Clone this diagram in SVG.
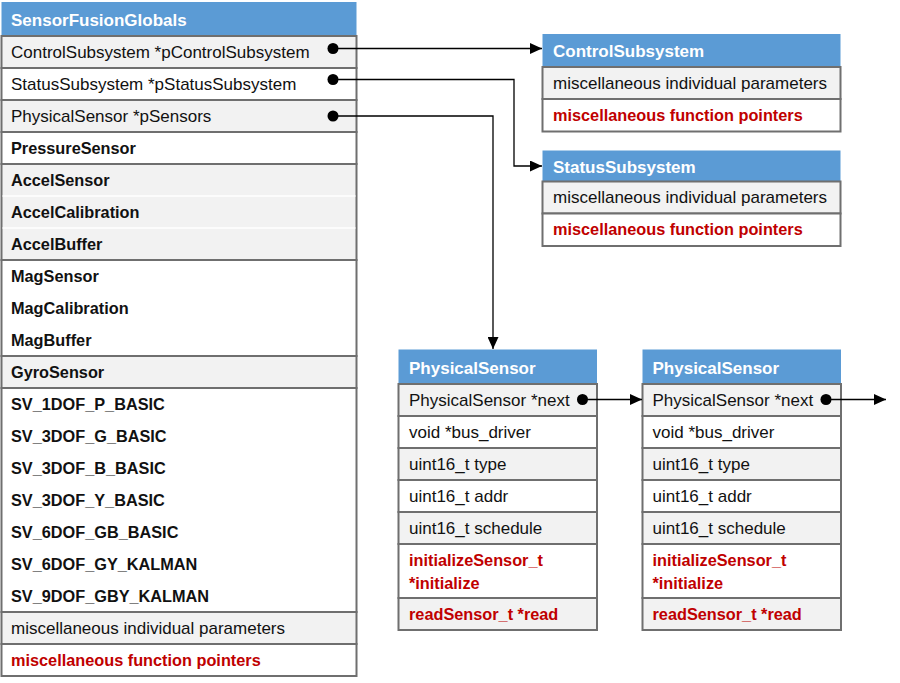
<svg xmlns="http://www.w3.org/2000/svg" width="900" height="683" viewBox="0 0 900 683">
<defs>
<style>
.hdr{fill:#5B9BD5}
.g{fill:#F2F2F2;stroke:#6F6F6F;stroke-width:2}
.w{fill:#FFFFFF;stroke:#6F6F6F;stroke-width:2}
.sep{stroke:#FFFFFF;stroke-width:1.5}
text{font-family:"Liberation Sans",Arial,sans-serif}
.ht{font-size:17px;font-weight:bold;fill:#FFFFFF}
.t{font-size:17px;fill:#111111}
.b{font-size:16.3px;font-weight:bold;fill:#111111}
.r{font-size:16.3px;font-weight:bold;fill:#C00000}
.c{fill:none;stroke:#000000;stroke-width:1.3}
</style>
<marker id="arr" markerUnits="userSpaceOnUse" markerWidth="13" markerHeight="11" refX="12" refY="5.5" orient="auto">
<path d="M0,0 L12,5.5 L0,11 z" fill="#000000"/>
</marker>
<marker id="dot" markerUnits="userSpaceOnUse" markerWidth="12" markerHeight="12" refX="6" refY="6" orient="auto">
<circle cx="6" cy="6" r="5.5" fill="#000000"/>
</marker>
</defs>

<g id="SensorFusionGlobals">
<rect class="hdr" x="1.5" y="2" width="355" height="34"/>
<text class="ht" x="11" y="25.5">SensorFusionGlobals</text>
<rect class="g" x="1.5" y="36" width="355" height="32"/>
<rect class="w" x="1.5" y="68" width="355" height="32"/>
<rect class="g" x="1.5" y="100" width="355" height="32"/>
<rect class="w" x="1.5" y="132" width="355" height="32"/>
<rect class="g" x="1.5" y="164" width="355" height="96"/>
<line class="sep" x1="2.5" y1="196" x2="355.5" y2="196"/>
<line class="sep" x1="2.5" y1="228" x2="355.5" y2="228"/>
<rect class="w" x="1.5" y="260" width="355" height="96"/>
<rect class="g" x="1.5" y="356" width="355" height="32"/>
<rect class="w" x="1.5" y="388" width="355" height="224"/>
<rect class="g" x="1.5" y="612" width="355" height="32"/>
<rect class="w" x="1.5" y="644" width="355" height="32"/>
<text class="t" x="11" y="57.5">ControlSubsystem *pControlSubsystem</text>
<text class="t" x="11" y="89.5">StatusSubsystem *pStatusSubsystem</text>
<text class="t" x="11" y="121.5">PhysicalSensor *pSensors</text>
<text class="b" x="11" y="153.5">PressureSensor</text>
<text class="b" x="11" y="185.5">AccelSensor</text>
<text class="b" x="11" y="217.5">AccelCalibration</text>
<text class="b" x="11" y="249.5">AccelBuffer</text>
<text class="b" x="11" y="281.5">MagSensor</text>
<text class="b" x="11" y="313.5">MagCalibration</text>
<text class="b" x="11" y="345.5">MagBuffer</text>
<text class="b" x="11" y="377.5">GyroSensor</text>
<text class="b" x="11" y="409.5">SV_1DOF_P_BASIC</text>
<text class="b" x="11" y="441.5">SV_3DOF_G_BASIC</text>
<text class="b" x="11" y="473.5">SV_3DOF_B_BASIC</text>
<text class="b" x="11" y="505.5">SV_3DOF_Y_BASIC</text>
<text class="b" x="11" y="537.5">SV_6DOF_GB_BASIC</text>
<text class="b" x="11" y="569.5">SV_6DOF_GY_KALMAN</text>
<text class="b" x="11" y="601.5">SV_9DOF_GBY_KALMAN</text>
<text class="t" x="11" y="633.5">miscellaneous individual parameters</text>
<text class="r" x="11" y="665.5">miscellaneous function pointers</text>
</g>

<g id="ControlSubsystem">
<rect class="hdr" x="542.5" y="34" width="298" height="33"/>
<text class="ht" x="553" y="56.5">ControlSubsystem</text>
<rect class="g" x="542.5" y="67" width="298" height="32"/>
<rect class="w" x="542.5" y="99" width="298" height="32.5"/>
<text class="t" x="553" y="88.5">miscellaneous individual parameters</text>
<text class="r" x="553" y="120.5">miscellaneous function pointers</text>
</g>

<g id="StatusSubsystem">
<rect class="hdr" x="542.5" y="150.5" width="298" height="31"/>
<text class="ht" x="553" y="172.5">StatusSubsystem</text>
<rect class="g" x="542.5" y="181.5" width="298" height="32"/>
<rect class="w" x="542.5" y="213.5" width="298" height="32.5"/>
<text class="t" x="553" y="203">miscellaneous individual parameters</text>
<text class="r" x="553" y="235">miscellaneous function pointers</text>
</g>

<g id="PhysicalSensor1">
<rect class="hdr" x="398.5" y="349.5" width="198.5" height="34.5"/>
<text class="ht" x="409" y="373.5">PhysicalSensor</text>
<rect class="g" x="398.5" y="384" width="198.5" height="32"/>
<rect class="w" x="398.5" y="416" width="198.5" height="32"/>
<rect class="g" x="398.5" y="448" width="198.5" height="32"/>
<rect class="w" x="398.5" y="480" width="198.5" height="32"/>
<rect class="g" x="398.5" y="512" width="198.5" height="32"/>
<rect class="w" x="398.5" y="544" width="198.5" height="54"/>
<rect class="g" x="398.5" y="598" width="198.5" height="32"/>
<text class="t" x="409" y="405.5">PhysicalSensor *next</text>
<text class="t" x="409" y="437.5">void *bus_driver</text>
<text class="t" x="409" y="469.5">uint16_t type</text>
<text class="t" x="409" y="501.5">uint16_t addr</text>
<text class="t" x="409" y="533.5">uint16_t schedule</text>
<text class="r" x="409" y="566">initializeSensor_t</text>
<text class="r" x="409" y="588.5">*initialize</text>
<text class="r" x="409" y="619.5">readSensor_t *read</text>
</g>

<g id="PhysicalSensor2">
<rect class="hdr" x="642.5" y="349.5" width="198.5" height="34.5"/>
<text class="ht" x="652.5" y="373.5">PhysicalSensor</text>
<rect class="g" x="642.5" y="384" width="198.5" height="32"/>
<rect class="w" x="642.5" y="416" width="198.5" height="32"/>
<rect class="g" x="642.5" y="448" width="198.5" height="32"/>
<rect class="w" x="642.5" y="480" width="198.5" height="32"/>
<rect class="g" x="642.5" y="512" width="198.5" height="32"/>
<rect class="w" x="642.5" y="544" width="198.5" height="54"/>
<rect class="g" x="642.5" y="598" width="198.5" height="32"/>
<text class="t" x="652.5" y="405.5">PhysicalSensor *next</text>
<text class="t" x="652.5" y="437.5">void *bus_driver</text>
<text class="t" x="652.5" y="469.5">uint16_t type</text>
<text class="t" x="652.5" y="501.5">uint16_t addr</text>
<text class="t" x="652.5" y="533.5">uint16_t schedule</text>
<text class="r" x="652.5" y="566">initializeSensor_t</text>
<text class="r" x="652.5" y="588.5">*initialize</text>
<text class="r" x="652.5" y="619.5">readSensor_t *read</text>
</g>

<g id="connectors">
<path class="c" d="M333,48.5 L542,48.5" marker-start="url(#dot)" marker-end="url(#arr)"/>
<path class="c" d="M333,79.5 L514,79.5 L514,166 L542,166" marker-start="url(#dot)" marker-end="url(#arr)"/>
<path class="c" d="M333,116 L493,116 L493,349" marker-start="url(#dot)" marker-end="url(#arr)"/>
<path class="c" d="M582.5,399.5 L642,399.5" marker-start="url(#dot)" marker-end="url(#arr)"/>
<path class="c" d="M826,399.5 L886,399.5" marker-start="url(#dot)" marker-end="url(#arr)"/>
</g>
</svg>
